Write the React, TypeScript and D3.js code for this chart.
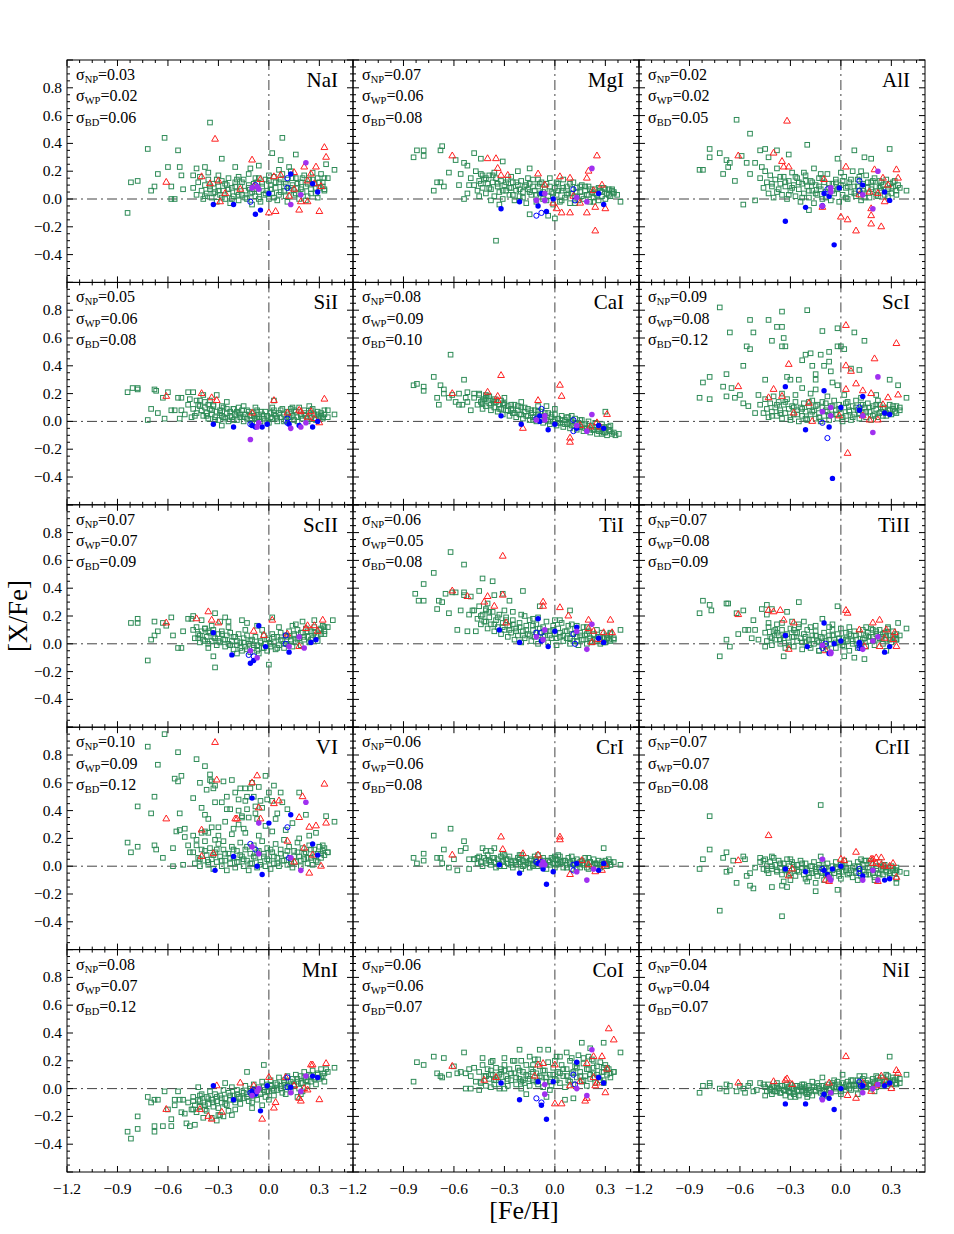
import React from "react";
import * as d3 from "d3";

// ---------------- data ----------------
const ELEMENTS = ["NaI", "MgI", "AlI", "SiI", "CaI", "ScI", "ScII", "TiI", "TiII", "VI", "CrI", "CrII", "MnI", "CoI", "NiI"];
const SIG_NP = [0.03, 0.07, 0.02, 0.05, 0.08, 0.09, 0.07, 0.06, 0.07, 0.10, 0.06, 0.07, 0.08, 0.06, 0.04];
const SIG_WP = [0.02, 0.06, 0.02, 0.06, 0.09, 0.08, 0.07, 0.05, 0.08, 0.09, 0.06, 0.07, 0.07, 0.06, 0.04];
const SIG_BD = [0.06, 0.08, 0.05, 0.08, 0.10, 0.12, 0.09, 0.08, 0.09, 0.12, 0.08, 0.08, 0.12, 0.07, 0.07];

const X_DOMAIN = [-1.2, 0.5];
const Y_DOMAIN = [-0.6, 1.0];
const X_TICKS = [-1.2, -0.9, -0.6, -0.3, 0.0, 0.3];
const Y_TICKS = [-0.6, -0.4, -0.2, 0.0, 0.2, 0.4, 0.6, 0.8, 1.0];
const Y_LABELS = [-0.4, -0.2, 0.0, 0.2, 0.4, 0.6, 0.8];

// pairs "x,y" in hundredths of dex
const GREEN_CORE = [
  "-45,8 -43,3 -42,12 -40,6 -39,0 -38,10 -37,4 -36,14 -35,7 -34,1 -33,11 -32,5 -31,-2 -30,9 -29,3 -28,13 -27,6 -26,0 -25,10 -24,4 -23,-3 -22,8 -21,2 -20,12 -19,5 -18,-1 -17,9 -16,3 -15,14 -14,6 -13,0 -12,10 -11,4 -10,-4 -9,7 -8,2 -7,12 -6,5 -5,-2 -4,9 -3,3 -2,14 -1,6 0,0 1,10 2,4 3,16 4,8 5,-1 6,12 7,5 8,18 9,9 10,2 11,14 12,6 13,20 14,10 15,3 16,15 17,8 18,0 19,12 20,5 21,17 22,9 23,2 24,14 25,7 26,19 27,11 28,4 29,15 30,8 31,18 32,12 33,6 35,15 -41,16 -36,19 -30,17 -24,15 -18,16 -12,18 -6,15 0,17 6,21 12,23",
  "-50,15 -48,10 -47,20 -46,6 -45,13 -44,18 -43,8 -42,14 -41,4 -40,11 -39,17 -38,7 -37,12 -36,2 -35,15 -34,9 -33,5 -32,13 -31,0 -30,10 -29,6 -28,14 -27,3 -26,8 -25,12 -24,-1 -23,6 -22,10 -21,2 -20,13 -19,5 -18,9 -17,-3 -16,7 -15,11 -14,3 -13,14 -12,6 -11,-2 -10,9 -9,4 -8,12 -7,0 -6,7 -5,11 -4,2 -3,15 -2,5 -1,-4 0,8 1,3 2,11 3,-2 4,6 5,14 6,1 7,9 8,4 9,-3 10,7 11,12 12,2 13,8 14,-1 15,5 16,10 17,0 18,6 19,3 20,9 21,-2 22,5 23,1 24,7 25,3 26,-1 27,6 28,2 29,8 30,0 31,4 32,7 33,2 35,5 37,3",
  "-48,15 -46,8 -45,20 -44,12 -43,4 -42,17 -41,9 -40,1 -39,14 -38,22 -37,7 -36,11 -35,3 -34,16 -33,9 -32,0 -31,13 -30,6 -29,19 -28,10 -27,2 -26,15 -25,7 -24,-2 -23,11 -22,4 -21,17 -20,9 -19,1 -18,13 -17,6 -16,-3 -15,10 -14,3 -13,15 -12,7 -11,0 -10,12 -9,5 -8,18 -7,8 -6,-1 -5,11 -4,4 -3,14 -2,7 -1,-2 0,10 1,3 2,16 3,8 4,0 5,12 6,5 7,20 8,9 9,2 10,14 11,6 12,-1 13,11 14,4 15,17 16,8 17,1 18,12 19,5 20,15 21,9 22,2 23,13 24,6 25,10 26,3 27,14 28,7 29,11 30,4 31,9 32,13 33,6 35,8",
  "-40,8 -39,4 -38,10 -37,6 -36,2 -35,9 -34,5 -33,11 -32,3 -31,7 -30,1 -29,8 -28,4 -27,10 -26,2 -25,6 -24,0 -23,7 -22,3 -21,9 -20,5 -19,1 -18,6 -17,3 -16,8 -15,0 -14,5 -13,2 -12,7 -11,4 -10,-1 -9,6 -8,2 -7,8 -6,3 -5,0 -4,5 -3,2 -2,7 -1,4 0,-1 1,6 2,2 3,8 4,4 5,0 6,6 7,3 8,9 9,5 10,1 11,7 12,3 13,9 14,4 15,1 16,7 17,3 18,10 19,5 20,2 21,8 22,4 23,0 24,6 25,3 26,9 27,5 28,1 29,7 30,3 31,6 32,2 33,5 35,3 -45,9 -43,6 -42,12 -50,5 -48,12 -46,3",
  "-48,17 -46,12 -45,19 -44,14 -43,9 -42,16 -41,11 -40,18 -39,13 -38,8 -37,15 -36,10 -35,14 -34,7 -33,12 -32,9 -31,5 -30,13 -29,8 -28,11 -27,4 -26,9 -25,6 -24,12 -23,3 -22,8 -21,5 -20,10 -19,2 -18,7 -17,4 -16,9 -15,1 -14,6 -13,3 -12,8 -11,0 -10,5 -9,2 -8,7 -7,-1 -6,4 -5,1 -4,6 -3,-2 -2,3 -1,0 0,5 1,-3 2,2 3,-1 4,4 5,-4 6,1 7,-2 8,3 9,-5 10,0 11,-3 12,2 13,-6 14,-1 15,-4 16,1 17,-7 18,-2 19,-5 20,0 21,-8 22,-3 23,-6 24,-1 25,-9 26,-4 27,-7 28,-2 29,-8 30,-5 31,-10 32,-6 33,-3 35,-8",
  "-48,12 -46,6 -45,16 -44,9 -43,3 -42,13 -41,7 -40,18 -39,10 -38,4 -37,14 -36,8 -35,2 -34,12 -33,6 -32,16 -31,9 -30,1 -29,11 -28,5 -27,14 -26,8 -25,0 -24,10 -23,4 -22,13 -21,7 -20,1 -19,11 -18,5 -17,15 -16,8 -15,2 -14,12 -13,6 -12,0 -11,10 -10,4 -9,13 -8,7 -7,1 -6,11 -5,5 -4,15 -3,8 -2,2 -1,12 0,6 1,0 2,10 3,4 4,14 5,7 6,1 7,11 8,5 9,15 10,8 11,2 12,12 13,6 14,10 15,3 16,13 17,7 18,1 19,11 20,5 21,9 22,3 23,12 24,7 25,4 26,10 27,6 28,8 29,12 30,5 31,9 32,7 33,11 35,8",
  "-45,10 -44,4 -43,12 -42,7 -41,1 -40,9 -39,3 -38,11 -37,5 -36,0 -35,8 -34,2 -33,10 -32,4 -31,-1 -30,7 -29,1 -28,9 -27,3 -26,-2 -25,6 -24,0 -23,8 -22,2 -21,-4 -20,5 -19,-1 -18,7 -17,1 -16,-5 -15,4 -14,-2 -13,6 -12,0 -11,-6 -10,3 -9,-3 -8,5 -7,-1 -6,-7 -5,2 -4,-3 -3,6 -2,0 -1,-5 0,4 1,-2 2,7 3,1 4,-4 5,5 6,-1 7,8 8,2 9,-3 10,6 11,0 12,9 13,3 14,-2 15,7 16,1 17,10 18,4 19,-1 20,8 21,3 22,11 23,5 24,1 25,9 26,4 27,12 28,6 29,2 30,10 31,7 32,13 33,9 35,12",
  "-48,24 -46,18 -45,27 -44,14 -43,21 -42,16 -41,25 -40,11 -39,19 -38,14 -37,23 -36,9 -35,17 -34,12 -33,21 -32,7 -31,15 -30,10 -29,19 -28,5 -27,13 -26,8 -25,17 -24,3 -23,11 -22,6 -21,15 -20,1 -19,9 -18,4 -17,13 -16,7 -15,17 -14,2 -13,10 -12,5 -11,14 -10,0 -9,8 -8,3 -7,12 -6,6 -5,16 -4,1 -3,9 -2,4 -1,13 0,7 1,-1 2,11 3,5 4,15 5,2 6,9 7,4 8,13 9,0 10,7 11,2 12,11 13,5 14,-1 15,8 16,3 17,12 18,6 19,0 20,9 21,4 22,1 23,7 24,3 25,10 26,5 27,0 28,8 29,4 30,1 31,6 32,3 33,7 35,4",
  "-45,8 -44,2 -43,12 -42,5 -41,-1 -40,9 -39,3 -38,14 -37,6 -36,0 -35,10 -34,4 -33,-3 -32,7 -31,1 -30,11 -29,5 -28,-2 -27,8 -26,2 -25,12 -24,4 -23,-4 -22,7 -21,1 -20,10 -19,3 -18,-3 -17,6 -16,0 -15,9 -14,2 -13,-5 -12,5 -11,-1 -10,8 -9,2 -8,-4 -7,6 -6,0 -5,10 -4,3 -3,-3 -2,7 -1,1 0,11 1,4 2,-2 3,8 4,2 5,-5 6,6 7,0 8,9 9,3 10,-3 11,7 12,1 13,10 14,4 15,-2 16,8 17,2 18,11 19,5 20,-1 21,7 22,3 23,10 24,5 25,0 26,8 27,3 28,11 29,6 30,1 31,9 32,4 33,7 35,6",
  "-45,10 -44,2 -43,15 -42,6 -41,0 -40,12 -39,4 -38,18 -37,8 -36,1 -35,13 -34,5 -33,-2 -32,10 -31,3 -30,16 -29,7 -28,0 -27,12 -26,4 -25,-3 -24,9 -23,2 -22,14 -21,6 -20,-1 -19,11 -18,3 -17,17 -16,7 -15,0 -14,12 -13,4 -12,-3 -11,9 -10,2 -9,15 -8,6 -7,-1 -6,11 -5,3 -4,18 -3,7 -2,0 -1,13 0,4 1,-2 2,10 3,2 4,16 5,6 6,0 7,12 8,4 9,19 10,8 11,1 12,14 13,5 14,-1 15,11 16,3 17,17 18,7 19,0 20,13 21,5 22,10 23,2 24,15 25,6 26,1 27,12 28,4 29,9 30,14 31,6 32,11 33,8 35,10 -38,25 -30,22 -22,23 -14,24 -6,22 2,25 10,26 -34,28 -18,30 -2,29",
  "-48,5 -46,2 -45,7 -44,3 -43,0 -42,6 -41,2 -40,8 -39,4 -38,1 -37,6 -36,3 -35,-1 -34,5 -33,2 -32,7 -31,3 -30,0 -29,5 -28,2 -27,7 -26,3 -25,-1 -24,4 -23,1 -22,6 -21,3 -20,-2 -19,4 -18,1 -17,6 -16,2 -15,-1 -14,5 -13,2 -12,7 -11,3 -10,0 -9,5 -8,1 -7,6 -6,2 -5,-2 -4,4 -3,1 -2,6 -1,2 0,-1 1,5 2,2 3,7 4,3 5,-1 6,4 7,1 8,6 9,2 10,-2 11,4 12,1 13,5 14,2 15,-1 16,4 17,1 18,6 19,2 20,-2 21,3 22,0 23,5 24,2 25,-1 26,4 27,1 28,3 29,0 30,4 31,2 32,5 33,1 35,3",
  "-48,3 -46,-2 -45,5 -44,0 -43,-5 -42,3 -41,-2 -40,6 -39,1 -38,-4 -37,4 -36,-1 -35,-6 -34,2 -33,-3 -32,5 -31,0 -30,-5 -29,3 -28,-2 -27,-7 -26,1 -25,-4 -24,4 -23,-1 -22,-6 -21,2 -20,-3 -19,-8 -18,0 -17,-5 -16,3 -15,-2 -14,-7 -13,1 -12,-4 -11,4 -10,-1 -9,-6 -8,2 -7,-3 -6,-8 -5,0 -4,-5 -3,3 -2,-2 -1,-7 0,1 1,-4 2,4 3,-1 4,-6 5,2 6,-3 7,-8 8,0 9,-5 10,3 11,-2 12,-7 13,1 14,-4 15,4 16,-1 17,-6 18,2 19,-3 20,-8 21,0 22,-5 23,3 24,-2 25,-6 26,1 27,-4 28,-1 29,-7 30,0 31,-3 32,-5 33,-1 35,-4",
  "-48,-10 -46,-15 -45,-6 -44,-12 -43,-17 -42,-8 -41,-13 -40,-4 -39,-10 -38,-15 -37,-6 -36,-11 -35,-2 -34,-8 -33,-13 -32,-4 -31,-9 -30,-14 -29,-5 -28,-10 -27,-1 -26,-7 -25,-12 -24,-3 -23,-8 -22,1 -21,-5 -20,-10 -19,-1 -18,-6 -17,-11 -16,-2 -15,-7 -14,2 -13,-4 -12,-9 -11,0 -10,-5 -9,3 -8,-2 -7,-8 -6,1 -5,-4 -4,5 -3,-1 -2,-6 -1,3 0,-2 1,6 2,0 3,-5 4,4 5,-1 6,8 7,2 8,-3 9,6 10,1 11,9 12,3 13,-2 14,7 15,2 16,10 17,5 18,0 19,9 20,4 21,12 22,6 23,2 24,10 25,5 26,13 27,8 28,3 29,11 30,7 31,14 32,9 33,5 35,12",
  "-45,12 -44,5 -43,17 -42,9 -41,2 -40,14 -39,7 -38,19 -37,10 -36,3 -35,15 -34,8 -33,0 -32,12 -31,5 -30,17 -29,9 -28,2 -27,14 -26,6 -25,20 -24,11 -23,3 -22,15 -21,7 -20,0 -19,12 -18,4 -17,17 -16,9 -15,2 -14,14 -13,6 -12,21 -11,11 -10,3 -9,16 -8,8 -7,1 -6,13 -5,5 -4,19 -3,10 -2,2 -1,15 0,7 1,23 2,12 3,4 4,17 5,9 6,1 7,14 8,6 9,20 10,11 11,3 12,16 13,8 14,24 15,12 16,5 17,18 18,9 19,2 20,14 21,7 22,21 23,11 24,4 25,16 26,8 27,19 28,12 29,6 30,17 31,10 32,14 33,8 35,12",
  "-45,1 -44,-2 -43,3 -42,-1 -41,-4 -40,2 -39,-2 -38,4 -37,0 -36,-3 -35,2 -34,-1 -33,-5 -32,1 -31,-2 -30,3 -29,0 -28,-4 -27,2 -26,-1 -25,-5 -24,1 -23,-2 -22,3 -21,-1 -20,-4 -19,2 -18,-1 -17,-5 -16,1 -15,-2 -14,4 -13,0 -12,-3 -11,2 -10,-1 -9,-4 -8,3 -7,0 -6,-3 -5,4 -4,1 -3,-2 -2,5 -1,1 0,-2 1,4 2,1 3,-1 4,5 5,2 6,-1 7,6 8,2 9,0 10,6 11,3 12,0 13,7 14,3 15,1 16,6 17,3 18,0 19,7 20,4 21,1 22,8 23,4 24,2 25,8 26,5 27,3 28,9 29,5 30,3 31,8 32,6 33,4 35,7",
];

const GREEN_CORE2 = [
  "-38,2 -35,9 -33,4 -30,6 -28,1 -26,11 -24,7 -22,0 -20,9 -18,3 -16,12 -14,1 -12,8 -10,5 -8,15 -6,0 -4,11 -2,4 0,13 1,7 3,1 4,12 6,3 7,14 9,6 10,11 11,-2 13,8 14,15 16,4 17,11 19,7 20,15 22,-1 23,11 25,4 26,14 28,8 29,1 30,12 32,9 33,15 -31,14 -19,14 -9,11",
  "-44,11 -41,15 -39,8 -37,17 -34,11 -31,6 -29,12 -27,8 -25,3 -23,12 -21,7 -19,1 -17,10 -15,5 -13,9 -11,3 -9,11 -7,5 -5,-1 -3,9 -1,4 1,12 2,6 4,-1 5,8 7,3 9,11 10,4 12,-3 13,5 15,9 16,2 18,9 20,3 21,7 23,-2 24,4 26,8 28,5 30,7 32,3 34,6 -36,19 -26,16 -16,15",
  "-41,11 -38,5 -36,16 -33,12 -31,3 -29,8 -27,16 -25,12 -23,1 -21,13 -19,6 -17,12 -15,4 -13,9 -11,15 -9,1 -7,11 -5,6 -3,12 -1,8 1,13 3,1 4,9 6,14 8,4 10,9 11,16 13,6 14,1 16,12 18,7 19,13 21,3 23,8 24,12 26,7 28,2 30,8 31,12 33,3 -22,19 -12,18 0,19 12,20",
  "-37,4 -34,8 -32,1 -29,6 -27,3 -25,9 -23,4 -21,1 -19,7 -17,5 -15,3 -13,8 -11,1 -9,4 -7,2 -5,7 -3,4 -1,0 1,3 3,6 5,2 7,8 9,0 11,5 13,3 15,8 17,0 19,4 21,6 23,2 25,8 27,2 29,5 31,4 33,8 -44,4 -41,11 -36,12 -28,11 -18,10 -8,10 2,10 14,10 24,11",
  "-43,13 -41,17 -38,12 -36,16 -33,9 -31,13 -28,8 -26,12 -24,6 -22,11 -20,5 -18,10 -16,4 -14,8 -12,3 -10,7 -8,1 -6,6 -4,0 -2,5 0,1 2,-1 4,1 6,-2 8,-1 10,-3 12,-1 14,-4 16,-2 18,-5 20,-3 22,-6 24,-4 26,-7 28,-5 30,-8 32,-4 34,-9 -30,17 -20,14 -10,11 0,9 10,4",
  "-41,4 -38,12 -36,6 -33,14 -30,3 -28,10 -26,5 -23,9 -21,2 -19,14 -17,7 -15,11 -13,3 -11,14 -9,8 -7,4 -5,11 -3,5 -1,9 1,3 3,13 5,8 7,3 9,10 11,6 13,12 15,7 17,10 19,4 21,12 23,6 25,9 27,4 29,8 31,11 33,6 -35,20 -27,19 -18,20 -8,18 2,19 12,17 22,15",
  "-41,6 -38,2 -36,9 -33,5 -30,2 -28,7 -26,3 -23,-1 -21,5 -19,2 -17,-3 -15,1 -13,-4 -11,2 -9,-1 -7,-5 -5,1 -3,-3 -1,3 1,0 3,5 5,-3 7,3 9,0 11,5 13,2 15,6 17,3 19,8 21,5 23,9 25,3 27,8 29,6 31,11 33,7 -34,13 -24,12 -14,10 -4,10 6,12 16,14",
  "-44,20 -41,16 -39,23 -36,14 -34,19 -31,12 -29,17 -27,10 -25,14 -23,9 -21,12 -19,6 -17,10 -15,6 -13,13 -11,8 -9,11 -7,5 -5,9 -3,6 -1,10 1,4 3,8 5,6 7,9 9,4 11,7 13,2 15,6 17,3 19,7 21,2 23,6 25,2 27,5 29,1 31,4 33,2 -30,24 -20,21 -10,19 0,17 10,14",
  "-41,4 -38,8 -36,3 -33,6 -31,-1 -28,5 -26,8 -23,1 -21,5 -19,-1 -17,3 -15,6 -13,1 -11,4 -9,-2 -7,3 -5,6 -3,1 -1,4 1,-1 3,3 5,7 7,2 9,6 11,-1 13,3 15,6 17,5 19,2 21,9 23,4 25,7 27,6 29,3 31,5 33,3 -35,15 -25,14 -15,13 -5,14 5,12 15,12",
  "-41,5 -38,11 -36,3 -33,8 -31,12 -28,4 -26,9 -23,6 -21,12 -19,3 -17,8 -15,5 -13,14 -11,2 -9,7 -7,10 -5,1 -3,9 -1,5 1,12 3,7 5,2 7,9 9,4 11,11 13,3 15,7 17,10 19,4 21,9 23,6 25,12 27,7 29,3 31,9 33,13 -36,34 -26,32 -16,36 -8,38 4,34 14,31 24,22",
  "-41,4 -38,3 -36,6 -33,0 -31,4 -28,5 -26,1 -23,3 -21,5 -19,0 -17,3 -15,4 -13,0 -11,5 -9,2 -7,4 -5,1 -3,3 -1,5 1,1 3,3 5,4 7,-1 9,3 11,2 13,-1 15,3 17,2 19,-1 21,3 23,1 25,2 27,-1 29,2 31,0 33,3 -30,8 -20,8 -10,8 0,7 10,7 20,6",
  "-41,0 -38,-3 -36,2 -33,-2 -31,-6 -28,1 -26,-3 -23,2 -21,-2 -19,-5 -17,0 -15,-4 -13,-1 -11,-5 -9,-1 -7,-6 -5,-3 -3,-1 -1,-4 1,0 3,-3 5,-5 7,-1 9,-4 11,0 13,-3 15,-6 17,-1 19,-5 21,-2 23,-6 25,-1 27,-3 29,-5 31,-1 33,-3 -30,-10 -20,-11 -10,-10 0,-9 10,-10 20,-10",
  "-41,-9 -38,-12 -36,-7 -33,-10 -31,-6 -28,-7 -26,-11 -23,-5 -21,-8 -19,-4 -17,-7 -15,-3 -13,-6 -11,-2 -9,-5 -7,-1 -5,-3 -3,1 -1,-2 1,2 3,-1 5,3 7,0 9,4 11,2 13,5 15,3 17,7 19,4 21,8 23,5 25,9 27,7 29,10 31,8 33,11 -30,-19 -20,-15 -10,-10 0,-8 10,-4 20,-2",
  "-41,9 -38,13 -36,6 -33,10 -30,13 -28,7 -26,11 -23,8 -21,13 -19,6 -17,10 -15,7 -13,12 -11,5 -9,9 -7,13 -5,8 -3,5 -1,10 1,6 3,11 5,14 7,9 9,5 11,12 13,15 15,9 17,6 19,14 21,10 23,15 25,10 27,6 29,12 31,15 33,11 -30,22 -20,20 -10,21 0,20 10,22 20,23",
  "-41,1 -38,-2 -36,2 -33,-1 -31,1 -28,-2 -26,2 -23,-1 -21,1 -19,-3 -17,1 -15,-1 -13,2 -11,-2 -9,1 -7,-1 -5,2 -3,0 -1,3 1,1 3,3 5,0 7,3 9,2 11,4 13,1 15,4 17,2 19,5 21,3 23,6 25,3 27,6 29,4 31,6 33,3 -30,-6 -20,-6 -10,-5 0,-4 10,-4 20,-2",
];

const GREEN_OUT = [
  "-84,-10 -82,12 -78,13 -72,36 -70,6 -68,9 -66,18 -62,44 -60,23 -58,9 -58,0 -56,0 -54,35 -53,23 -52,17 -51,7 -45,17 -43,22 -38,23 -35,55 -28,29 -20,23 -11,22 -6,24 2,33 7,28 8,44 16,32 34,25 39,21 33,7",
  "-84,30 -82,35 -78,35 -78,31 -68,35 -67,38 -72,6 -70,12 -68,12 -66,9 -63,19 -59,28 -57,10 -56,18 -54,26 -52,24 -52,4 -54,0 -51,10 -48,33 -45,2 -44,29 -43,17 -38,-1 -35,-30 -33,-4 -31,27 -22,20 -15,22 -10,14 0,-14 -15,-11 -4,-12 39,-2 35,4 34,7",
  "-84,21 -82,21 -78,36 -78,30 -72,33 -70,18 -68,28 -67,23 -66,26 -62,57 -63,13 -58,-4 -59,31 -56,26 -54,47 -54,18 -51,-1 -51,26 -48,35 -47,23 -45,36 -43,30 -38,35 -31,32 -20,39 -16,22 -2,29 8,35 14,30 18,29 29,36 39,6 34,10 -19,-8",
  "-84,21 -81,24 -78,24 -78,23 -72,1 -70,9 -68,23 -67,22 -66,6 -63,17 -62,2 -60,21 -58,8 -56,8 -54,17 -53,2 -52,17 -52,8 -48,21 -47,16 -45,21 -43,15 -41,15 -39,19 -38,14 -35,15 -33,12 -31,19 -28,-3 -25,14 -21,9 -15,11 -7,2 3,15 39,5 35,8 32,3",
  "-84,26 -82,27 -78,25 -78,22 -72,32 -70,17 -69,12 -68,26 -66,23 -66,20 -63,17 -62,48 -61,19 -59,14 -57,20 -57,12 -55,12 -54,30 -53,17 -52,21 -52,14 -50,8 -48,20 -45,20 -43,15 -41,19 -39,18 -36,14 -32,15 -30,12 -25,8 -13,1 -5,11 7,3 15,1 23,-6 29,-4 30,7 33,-7 36,-10 38,-9 28,-9",
  "-84,17 -82,28 -78,32 -78,16 -72,82 -70,25 -68,18 -68,34 -66,64 -65,24 -63,17 -60,19 -58,40 -58,13 -56,54 -55,11 -54,52 -54,73 -52,64 -51,6 -49,19 -45,30 -43,73 -41,58 -38,68 -35,68 -35,54 -34,60 -33,54 -35,79 -32,32 -30,30 -25,30 -23,44 -21,48 -20,80 -18,49 -17,40 -15,30 -15,34 -12,48 -11,65 -10,40 -7,50 -7,43 -6,36 -5,28 -2,26 -2,67 -2,54 0,54 2,52 6,38 8,64 11,37 14,58 21,19 29,30 34,26 39,17 35,10 -15,23 -23,24",
  "-82,15 -78,18 -78,15 -72,-12 -70,3 -68,6 -68,16 -66,9 -63,15 -61,13 -58,19 -57,6 -54,-3 -52,-3 -51,9 -48,18 -46,18 -45,20 -42,4 -40,17 -38,11 -36,-3 -33,-9 -32,-17 -32,22 -29,16 -26,19 -24,16 -19,-7 -16,17 -13,15 -7,13 0,-15 2,19 14,13 20,16 27,17 38,17 33,12",
  "-62,66 -54,57 -72,51 -78,43 -83,36 -81,31 -78,31 -70,25 -69,31 -67,30 -65,36 -61,37 -63,22 -59,37 -58,10 -56,24 -54,37 -54,35 -52,9 -51,21 -50,34 -49,24 -47,9 -45,38 -43,47 -41,24 -40,29 -37,45 -36,35 -31,36 -27,31 -25,23 -19,38 -18,20 -13,18 -9,27 3,17 9,24 13,13 19,12 31,4 33,8 39,10 35,3 27,3",
  "-84,22 -82,31 -78,28 -77,24 -72,-9 -68,29 -67,29 -68,3 -66,-2 -62,22 -61,7 -58,24 -57,10 -55,10 -53,4 -52,17 -51,10 -49,3 -47,25 -44,28 -44,21 -43,15 -45,-2 -41,25 -39,10 -34,-9 -32,23 -29,16 -28,10 -25,30 -22,16 -18,12 -13,-5 -11,18 -7,12 -2,27 2,-9 8,-10 14,-11 19,10 28,12 34,15 39,11 33,3 27,-5",
  "-84,17 -82,10 -78,14 -78,43 -72,86 -70,38 -68,15 -68,50 -67,12 -66,73 -63,6 -62,95 -57,13 -57,0 -56,63 -55,25 -54,82 -54,61 -53,26 -53,38 -52,65 -51,1 -50,21 -50,27 -48,15 -47,10 -45,49 -45,22 -43,77 -43,19 -41,60 -40,42 -40,24 -38,37 -38,72 -37,55 -36,24 -35,66 -35,62 -34,61 -33,56 -32,46 -32,58 -32,19 -30,28 -28,46 -27,61 -27,18 -25,41 -25,50 -23,41 -22,62 -21,27 -20,53 -18,48 -18,40 -17,56 -16,35 -15,27 -14,47 -14,56 -13,41 -13,50 -12,35 -11,56 -10,60 -9,50 -8,43 -7,34 -6,57 -5,47 -4,42 -2,65 -1,48 0,53 2,47 3,58 5,38 7,53 8,46 11,41 18,53 22,37 28,24 34,36 39,32 35,10 32,15 18,20",
  "-84,6 -82,2 -78,9 -78,4 -72,22 -70,6 -68,6 -67,2 -66,12 -63,-1 -62,27 -60,5 -58,-3 -56,11 -54,18 -53,13 -51,5 -51,-2 -48,5 -46,6 -43,13 -41,11 -38,11 -36,13 -31,9 -21,8 -13,1 -4,4 2,8 29,13 39,1 33,1",
  "-84,-2 -82,5 -78,36 -78,12 -72,-32 -70,6 -68,-4 -68,10 -66,-3 -64,4 -62,-12 -58,7 -57,5 -56,-7 -54,-14 -54,-5 -52,-16 -51,-1 -48,6 -46,4 -44,-3 -41,-15 -41,7 -35,-36 -35,-14 -34,-11 -32,-15 -30,5 -26,1 -21,-9 -15,-12 -15,-18 -12,44 -12,7 -2,-17 12,5 14,4 17,4 25,0 33,-9 33,-12 39,-5 33,-3",
  "-84,-31 -82,-36 -78,-20 -78,-29 -72,-6 -70,-10 -68,-8 -68,-27 -66,-8 -68,-31 -62,-2 -63,-27 -60,-15 -58,-27 -58,-22 -56,-8 -56,-12 -54,-2 -53,-8 -52,-17 -51,-8 -50,-18 -49,-25 -47,-27 -45,-9 -45,-15 -44,-26 -42,1 -41,-5 -41,-13 -39,-21 -37,-16 -34,-21 -31,-23 -29,-19 -27,-20 -26,4 -24,-16 -22,-19 -13,12 -10,-14 -4,-12 -3,17 17,-6 19,-4 34,14 39,15",
  "-84,5 -82,19 -78,17 -72,23 -70,11 -68,9 -67,8 -66,22 -63,10 -60,16 -58,11 -56,12 -54,26 -53,11 -53,0 -51,14 -50,0 -50,9 -48,15 -47,5 -45,-1 -44,4 -43,22 -41,9 -38,1 -38,10 -37,20 -35,6 -32,14 -30,0 -24,20 -21,28 -20,5 -17,-4 -13,17 -9,28 -5,-6 -3,-1 3,23 6,-8 11,-7 13,18 17,22 23,20 29,15 35,12 39,26 29,4 29,33 21,29 7,26 -4,28 -15,23 16,33",
  "-84,-3 -82,2 -78,4 -78,2 -72,0 -68,3 -68,-2 -66,2 -62,-2 -60,2 -58,0 -57,-3 -55,2 -54,4 -52,-2 -50,-1 -48,4 -46,3 -45,-5 -42,0 -40,-2 -38,2 -36,-3 -34,-1 -32,3 -30,-3 -28,0 -27,-6 -25,-2 -23,3 -21,-3 -17,5 -11,8 -4,6 1,10 6,6 11,9 14,9 21,9 27,10 29,23 35,4 39,10 33,8",
];

const RED_TRI = [
  "-32,43 -61,12 -10,28 33,37 34,30 30,-9 0,-10 4,-9 18,-8 -40,16 3,16 7,17 15,19 21,23 25,18 28,23 23,13 27,11 31,9 15,7 12,2 19,-2 23,-2 -5,14 -9,9 -17,7 -26,4 -29,-2 -35,11 -30,13",
  "-61,31 -40,29 -35,29 -34,22 -32,17 -28,17 -10,18 3,16 9,15 20,20 19,15 25,31 24,-23 28,10 30,-7 24,-6 19,-10 9,-10 4,-10 1,-7 23,6 11,2 15,-3 -1,-3 -6,10",
  "-32,56 -61,31 -40,33 -35,27 -34,23 -31,23 3,23 20,21 33,21 34,15 25,15 28,10 26,-2 0,-13 4,-15 9,-23 18,-18 24,-20 18,-12 18,-7 -10,14 -11,-6 11,3 17,5 22,4",
  "-61,18 -40,20 -34,17 -31,15 3,15 33,16 19,7 25,7 27,2 30,-1 11,6 -10,6 18,8 23,3",
  "-61,20 -40,21 -34,15 -32,33 -10,15 3,26 4,18 -19,-5 9,-12 9,-15 31,5 25,-1 21,-4 27,-4 15,-3 -34,18",
  "-61,25 -31,41 -43,17 -40,23 -35,18 -28,6 -17,0 3,69 3,40 6,36 9,27 3,23 13,22 20,45 18,20 33,56 34,19 28,17 4,-23 13,4 22,1 17,1 25,12 -19,13 -1,4",
  "-36,23 -61,15 -43,18 -34,17 -30,15 -9,9 -3,6 2,17 22,11 23,13 32,17 27,13 29,9 18,-2 11,7",
  "-61,38 -31,63 -52,34 -42,30 -40,34 -36,27 -31,35 -29,15 -7,30 -7,27 3,26 8,20 20,17 20,11 23,9 26,3 29,8 33,17 34,8 22,1",
  "-61,21 -43,24 -40,23 -36,24 -34,17 -28,15 -31,-4 3,24 4,22 11,10 19,15 23,17 27,10 32,8 23,-2 33,-2 31,3 26,4 14,-2 -9,-5",
  "-61,34 -40,26 -32,89 -31,62 -20,34 -19,34 -10,60 -7,65 -6,42 -5,34 3,45 6,47 11,18 18,35 20,50 24,28 28,29 33,59 34,31 24,-5 31,0 26,8 21,13 15,3 -33,9 -40,7",
  "-61,8 -32,21 -31,12 -19,9 -10,8 3,21 3,19 9,-6 24,-4 28,-3 30,1 16,4 20,1 -9,4",
  "-43,22 -61,4 -29,-2 -9,-10 -7,-11 0,5 2,4 9,10 18,5 19,5 21,6 24,6 19,2 21,2 24,1 26,0 31,2 33,-8 22,-11 29,0 -31,-7",
  "-61,-15 -36,-20 -34,-22 -31,2 -28,-17 -17,4 -4,-22 3,-14 4,-10 0,8 10,8 18,-7 19,-9 30,-8 34,18 25,17 26,17 21,0 23,-1 15,2 -9,2 -41,-15",
  "-61,16 -10,17 -7,18 0,17 19,18 23,23 28,23 31,14 30,-3 25,4 18,-9 19,-7 24,2 0,-11 4,-11 9,2 15,5 23,8 -12,9 -35,8 -42,6 32,43 35,35",
  "-61,4 -40,5 -33,6 -32,7 -29,3 3,23 4,-5 9,-7 18,-2 24,9 30,0 33,13 34,11 27,5 21,2 13,4 -7,4",
];

const BLUE_DOT = [
  "-33,-4 -21,-4 -8,-11 -5,-8 0,4 13,18 26,11 29,5",
  "-32,-7 -21,-2 -10,-5 -5,-9 -8,4 -1,0 26,4 29,-4",
  "-33,-16 -4,-33 -21,-6 -10,4 -7,2 -1,8 13,10 26,5 29,-1",
  "-33,-2 -21,-4 -10,-3 -8,-4 -4,-4 -1,-2 12,-2 18,-3 26,-4 29,0",
  "-32,4 -20,-2 -9,4 -9,0 -4,-6 0,-2 13,-5 26,-3 29,-5",
  "-33,25 -21,-6 -10,22 -7,-4 -5,-41 0,10 13,18 26,6 29,5 11,8",
  "-33,8 -22,-8 -11,-14 -9,-12 -6,13 -2,-2 12,-6 25,1 28,3",
  "-33,10 -21,1 -10,18 -8,2 -4,-2 0,9 13,12 26,4 29,1",
  "-33,6 -20,-2 -10,15 -7,-7 -4,0 0,2 11,1 12,-3 26,-6 29,-2",
  "-32,-3 -21,7 -10,49 -7,0 -4,-6 0,31 13,37 26,16 29,8",
  "-33,1 -21,-5 -10,2 -7,-2 -5,-13 -1,-4 13,2 26,-3 29,2",
  "-33,-2 -21,-4 -10,-3 -8,-6 -5,-2 0,0 13,-7 26,-10 29,-9",
  "-33,2 -21,-8 -10,-2 -8,-4 -5,-16 -1,2 13,1 26,9 29,8",
  "-32,4 -21,-8 -10,5 -8,-12 -5,-22 -1,5 13,19 26,8 29,4",
  "-33,-11 -21,-11 -10,-4 -7,-7 -4,-15 0,0 13,2 26,2 29,4",
];

const BLUE_RING = [
  "-11,-2 11,8 11,15 -8,10",
  "-11,-12 -8,-10 11,7 12,-1",
  "-11,-5 11,13 11,6 -8,7",
  "-11,-2 11,2 11,-1",
  "-11,2 -8,9 11,1 11,-7",
  "-11,-1 -8,-12 11,10",
  "-12,-8 -9,-9 10,6 10,0",
  "-11,8 -8,8 11,7 12,0",
  "-11,-3 -9,0 11,0 11,-3",
  "-11,16 -8,12 11,28 12,6",
  "-11,3 -8,3 11,1 11,-3",
  "-11,-2 11,-2 11,-5",
  "-11,-3 -9,-1 11,8 11,1",
  "-11,-7 -8,-10 11,10 12,3",
  "-11,-7 11,5 12,2",
];

const PURPLE_DOT = [
  "-10,8 -6,7 13,-4 19,3 22,26 -7,9",
  "-6,4 -11,-1 -6,-1 13,1 19,-2 22,22",
  "-11,-5 -6,8 -6,5 13,3 19,-7 22,20",
  "-11,-13 -6,-1 13,-5 19,-4 22,-1 -7,-4",
  "-11,1 -6,4 -6,1 13,-3 19,-7 22,5",
  "-11,7 -6,10 -6,4 13,4 19,-8 22,32",
  "-11,-5 -7,-10 12,-2 18,5 21,-3",
  "-11,5 -7,3 -6,10 13,9 19,-4 22,14",
  "-11,-1 -6,-6 -6,-7 13,-4 19,2 22,5",
  "-10,14 -6,31 -6,9 13,6 19,-3 22,46",
  "-8,1 -6,1 13,-4 19,-10 23,-2 -7,3",
  "-11,5 -7,-8 -6,-10 13,-10 19,-3 22,-10",
  "-10,-5 -6,0 -7,-2 13,-3 19,-2 22,9",
  "-6,3 -6,-4 13,0 19,-5 22,28",
  "-11,-8 -6,-3 13,-3 19,0 22,3",
];

// ---------------- helpers ----------------
function pts(s: string): [number, number][] {
  return s.trim().split(/\s+/).map((p) => {
    const [a, b] = p.split(",").map(Number);
    return [a / 100, b / 100] as [number, number];
  });
}

const fmt = (v: number) => (v < -1e-9 ? "\u2212" : "") + Math.abs(v).toFixed(1);

const W = 954;
const H = 1234;
const LEFT = 67;
const TOP = 60;
const PW = 286;
const PH = 222.4;
const FONT = "'Liberation Serif', 'Times New Roman', serif";
const GREEN = "#2e8b57";
const RED = "#ff2020";
const BLUE = "#0000ff";
const PURPLE = "#a030f0";
const DASH = "10,4,2,4";

const triPath = d3.symbol().type(d3.symbolTriangle).size(20)() as string;

function Panel({ i }: { i: number }) {
  const r = Math.floor(i / 3);
  const c = i % 3;
  const x0 = LEFT + c * PW;
  const y0 = TOP + r * PH;
  const x = d3.scaleLinear().domain(X_DOMAIN).range([x0, x0 + PW]);
  const y = d3.scaleLinear().domain(Y_DOMAIN).range([y0 + PH, y0]);

  const xMinor = d3.range(0, 23).filter((k) => k % 4 !== 0).map((k) => -1.2 + k * 0.075);
  const yMinor = d3.range(0, 33).filter((k) => k % 4 !== 0).map((k) => -0.6 + k * 0.05);

  const green = pts(GREEN_CORE[i]).concat(pts(GREEN_CORE2[i]), pts(GREEN_OUT[i]));
  const red = pts(RED_TRI[i]);
  const blue = pts(BLUE_DOT[i]);
  const ring = pts(BLUE_RING[i]);
  const purple = pts(PURPLE_DOT[i]);

  const MAJ = 6;
  const MIN = 3;
  const yb = y0 + PH;
  const xr = x0 + PW;

  return (
    <g>
      {/* zero lines */}
      <line x1={x0} x2={xr} y1={y(0)} y2={y(0)} stroke="#444" strokeWidth={1} strokeDasharray={DASH} />
      <line x1={x(0)} x2={x(0)} y1={y0} y2={yb} stroke="#444" strokeWidth={1} strokeDasharray={DASH} />

      {/* points */}
      {green.map(([a, b], k) => (
        <rect key={"g" + k} x={x(a) - 2.3} y={y(b) - 2.3} width={4.6} height={4.6} fill="none" stroke={GREEN} strokeWidth={1} />
      ))}
      {red.map(([a, b], k) => (
        <path key={"r" + k} d={triPath} transform={`translate(${x(a)},${y(b)})`} fill="none" stroke={RED} strokeWidth={1} />
      ))}
      {blue.map(([a, b], k) => (
        <circle key={"b" + k} cx={x(a)} cy={y(b)} r={2.7} fill={BLUE} />
      ))}
      {ring.map(([a, b], k) => (
        <circle key={"o" + k} cx={x(a)} cy={y(b)} r={2.6} fill="none" stroke={BLUE} strokeWidth={1} />
      ))}
      {purple.map(([a, b], k) => (
        <circle key={"p" + k} cx={x(a)} cy={y(b)} r={2.8} fill={PURPLE} />
      ))}

      {/* frame */}
      <rect x={x0} y={y0} width={PW} height={PH} fill="none" stroke="#000" strokeWidth={1} />

      {/* ticks */}
      {X_TICKS.map((v) => (
        <g key={"xt" + v}>
          <line x1={x(v)} x2={x(v)} y1={yb} y2={yb - MAJ} stroke="#000" />
          <line x1={x(v)} x2={x(v)} y1={y0} y2={y0 + MAJ} stroke="#000" />
        </g>
      ))}
      {xMinor.map((v, k) => (
        <g key={"xm" + k}>
          <line x1={x(v)} x2={x(v)} y1={yb} y2={yb - MIN} stroke="#000" />
          <line x1={x(v)} x2={x(v)} y1={y0} y2={y0 + MIN} stroke="#000" />
        </g>
      ))}
      {Y_TICKS.map((v) => (
        <g key={"yt" + v}>
          <line x1={x0} x2={x0 + MAJ} y1={y(v)} y2={y(v)} stroke="#000" />
          <line x1={xr} x2={xr - MAJ} y1={y(v)} y2={y(v)} stroke="#000" />
        </g>
      ))}
      {yMinor.map((v, k) => (
        <g key={"ym" + k}>
          <line x1={x0} x2={x0 + MIN} y1={y(v)} y2={y(v)} stroke="#000" />
          <line x1={xr} x2={xr - MIN} y1={y(v)} y2={y(v)} stroke="#000" />
        </g>
      ))}

      {/* tick labels */}
      {c === 0 &&
        Y_LABELS.map((v) => (
          <text key={"yl" + v} x={x0 - 5} y={y(v) + 5} textAnchor="end" fontSize={15.5} fontFamily={FONT}>
            {fmt(v)}
          </text>
        ))}
      {r === 4 &&
        X_TICKS.map((v) => (
          <text key={"xl" + v} x={x(v)} y={yb + 22} textAnchor="middle" fontSize={15.5} fontFamily={FONT}>
            {fmt(v)}
          </text>
        ))}

      {/* sigma annotations */}
      {[
        ["NP", SIG_NP[i]],
        ["WP", SIG_WP[i]],
        ["BD", SIG_BD[i]],
      ].map(([lab, val], k) => (
        <text key={"s" + k} x={x0 + 9} y={y0 + 20 + k * 21.3} fontSize={16} fontFamily={FONT}>
          σ
          <tspan fontSize={10.5} dy={3}>
            {lab as string}
          </tspan>
          <tspan dy={-3}>={(val as number).toFixed(2)}</tspan>
        </text>
      ))}

      {/* element label */}
      <text x={xr - 15} y={y0 + 27} textAnchor="end" fontSize={21} fontFamily={FONT}>
        {ELEMENTS[i]}
      </text>
    </g>
  );
}

export default function App() {
  return (
    <svg
      width={W}
      height={H}
      viewBox={`0 0 ${W} ${H}`}
      style={{ position: "absolute", left: 0, top: 0, background: "#fff" }}
    >
      <rect x={0} y={0} width={W} height={H} fill="#fff" />
      {ELEMENTS.map((_, i) => (
        <Panel key={i} i={i} />
      ))}
      <text x={524} y={1219} textAnchor="middle" fontSize={26} fontFamily={FONT}>
        [Fe/H]
      </text>
      <text
        transform={`translate(27,${TOP + 2.5 * PH}) rotate(-90)`}
        textAnchor="middle"
        fontSize={27}
        fontFamily={FONT}
      >
        [X/Fe]
      </text>
    </svg>
  );
}
